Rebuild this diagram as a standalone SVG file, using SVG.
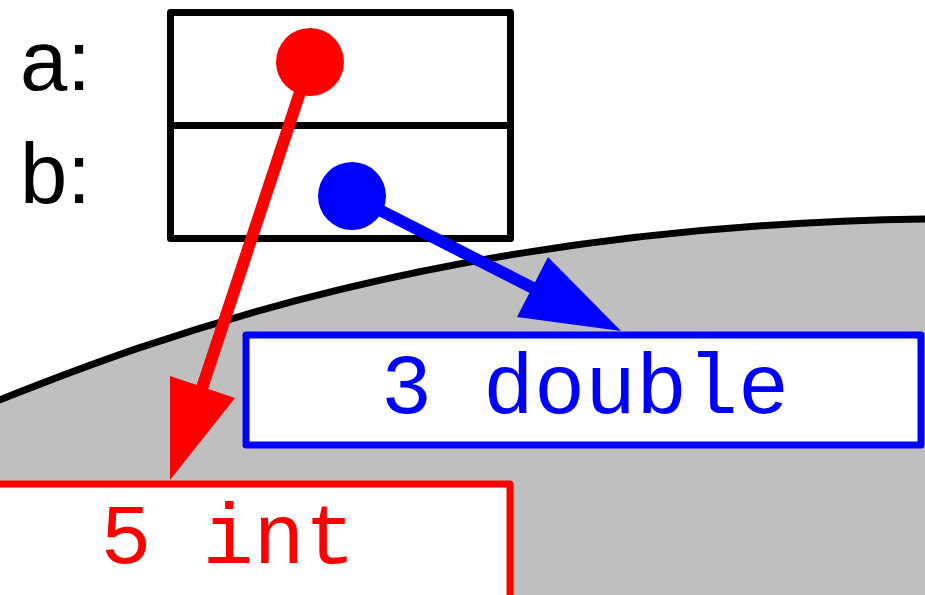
<svg xmlns="http://www.w3.org/2000/svg" width="925" height="595" viewBox="0 0 925 595">
<style>
.lbl{font-family:"Liberation Sans",Arial,sans-serif;font-size:85px;fill:#000}
.mono{font-family:"Liberation Mono","Courier New",monospace;font-size:85px;text-anchor:middle}
.box{fill:#fff;stroke-width:7;stroke-linejoin:round}
</style>
<rect width="925" height="595" fill="#fff"/>
<g id="heap">
<path d="M0,400 C150,340 450,225 925,219 L925,595 L0,595 Z" fill="#bfbfbf"/>
<path d="M-3,401 C150,340 450,225 928,219" fill="none" stroke="#000" stroke-width="7"/>
</g>
<g id="vars">
<rect class="box" x="170.5" y="12.5" width="340" height="226" stroke="#000"/>
<line x1="170.5" y1="125.5" x2="510.5" y2="125.5" stroke="#000" stroke-width="7"/>
<text class="lbl" x="20" y="90">a:</text>
<text class="lbl" x="20" y="203">b:</text>
</g>
<g id="double">
<rect class="box" x="246" y="335" width="675" height="110" stroke="#00f"/>
<text class="mono" x="585" y="413" fill="#00f">3 double</text>
</g>
<g id="int">
<rect class="box" x="-54" y="484" width="564" height="130" stroke="#f00"/>
<text class="mono" x="228" y="563" fill="#f00">5 int</text>
</g>
<g id="connectors">
<circle cx="310" cy="62" r="34" fill="#f00"/>
<line x1="310" y1="62" x2="202" y2="388" stroke="#f00" stroke-width="12"/>
<polygon points="170,480 170,376 235,398" fill="#f00"/>
<circle cx="352" cy="196" r="34" fill="#00f"/>
<line x1="352" y1="196" x2="533" y2="288" stroke="#00f" stroke-width="12"/>
<polygon points="621,331 548,257 517,317" fill="#00f"/>
</g>
</svg>
